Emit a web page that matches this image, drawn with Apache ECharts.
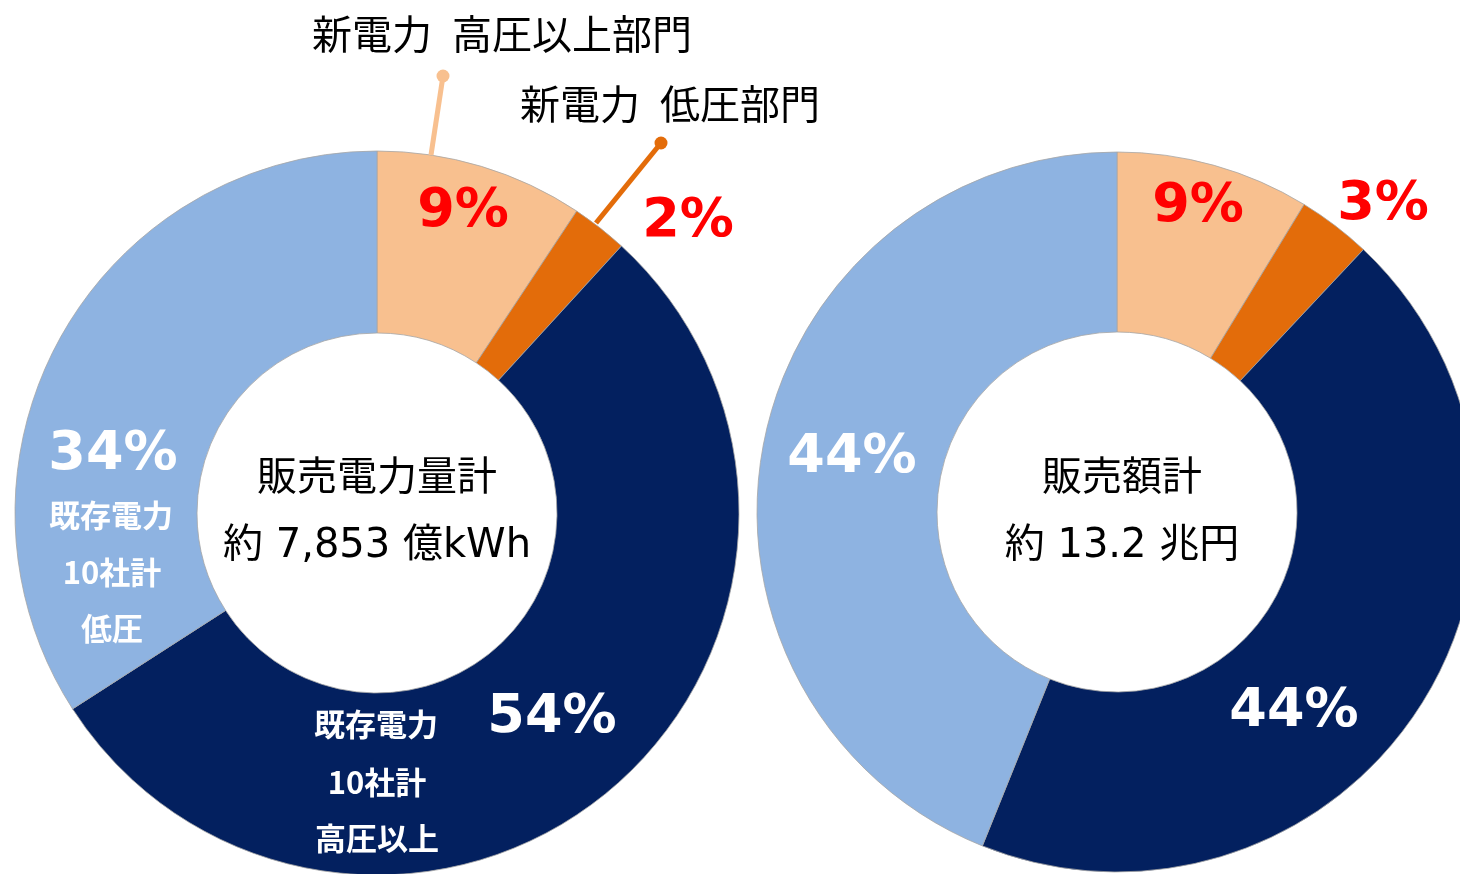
<!DOCTYPE html>
<html>
<head>
<meta charset="utf-8">
<script src="https://cdn.jsdelivr.net/npm/echarts@6/dist/echarts.min.js"></script>
<style>
  html, body { margin: 0; padding: 0; background: #fff; }
  #chart { width: 1460px; height: 874px; }
</style>
</head>
<body>
<div id="chart"></div>
<script>
// 区分
var categories = ['新電力 高圧以上部門', '新電力 低圧部門', '既存電力10社計 高圧以上', '既存電力10社計 低圧'];
// 販売電力量のシェア(%)
var volumeShares = [9.3, 2.5, 54.1, 34.1];
// 販売額のシェア(%)
var salesShares = [8.7, 3.3, 44.1, 43.9];
// 表示ラベル
var volumeLabels = ['9%', '2%', '54%', '34%'];
var salesLabels = ['9%', '3%', '44%', '44%'];
var sliceColors = ['#F8C08F', '#E36C0A', '#03205F', '#8EB3E1'];

var jpFont = "'Noto Sans CJK JP', sans-serif";
var numFont = "'DejaVu Sans', 'Noto Sans CJK JP', sans-serif";

function toData(values) {
    return values.map(function (v, i) {
        return {name: categories[i], value: v, itemStyle: {color: sliceColors[i]}};
    });
}

function txt(text, x, y, fill, font) {
    return {
        type: 'text', x: x, y: y, z: 10,
        style: {text: text, fill: fill, font: font, align: 'center', verticalAlign: 'middle',
                 textAlign: 'center', textVerticalAlign: 'middle'}
    };
}

var pieBase = {
    type: 'pie',
    startAngle: 90,
    clockwise: true,
    label: {show: false},
    labelLine: {show: false},
    emphasis: {disabled: true},
    itemStyle: {borderColor: '#A6A6A6', borderWidth: 0.8}
};

var pctRed = 'bold 54px ' + numFont;
var pctWhite = 'bold 54px ' + numFont;
var subWhite = 'bold 31px ' + jpFont;
var centerFont = '40px ' + numFont;
var centerJp = '40px ' + jpFont;
var calloutFont = '40px ' + jpFont;

var chart = echarts.init(document.getElementById('chart'));
chart.setOption({
    animation: false,
    backgroundColor: '#ffffff',
    series: [
        Object.assign({}, pieBase, {
            name: '販売電力量', center: [377, 513], radius: [180, 362], data: toData(volumeShares)
        }),
        Object.assign({}, pieBase, {
            name: '販売額', center: [1117, 512], radius: [180, 360], data: toData(salesShares)
        })
    ],
    graphic: [
        // 新電力の引き出し線
        {type: 'line', z: 5, shape: {x1: 443, y1: 76, x2: 431, y2: 155}, style: {stroke: sliceColors[0], lineWidth: 5}},
        {type: 'circle', z: 5, shape: {cx: 443, cy: 76, r: 6.5}, style: {fill: sliceColors[0]}},
        {type: 'line', z: 5, shape: {x1: 661, y1: 143, x2: 596, y2: 223}, style: {stroke: sliceColors[1], lineWidth: 5}},
        {type: 'circle', z: 5, shape: {cx: 661, cy: 143, r: 6.5}, style: {fill: sliceColors[1]}},
        txt('新電力\u2002高圧以上部門', 502, 34, '#000', calloutFont),
        txt('新電力\u2002低圧部門', 670, 104, '#000', calloutFont),

        // 左: 販売電力量
        txt(volumeLabels[0], 463, 212, '#FF0000', pctRed),
        txt(volumeLabels[1], 688, 222, '#FF0000', pctRed),
        txt(volumeLabels[2], 552, 718, '#FFFFFF', pctWhite),
        txt(volumeLabels[3], 113, 455, '#FFFFFF', pctWhite),
        txt('既存電力', 111, 515, '#FFFFFF', subWhite),
        txt('10社計', 112, 572, '#FFFFFF', subWhite),
        txt('低圧', 112, 628, '#FFFFFF', subWhite),
        txt('既存電力', 376, 724, '#FFFFFF', subWhite),
        txt('10社計', 377, 782, '#FFFFFF', subWhite),
        txt('高圧以上', 377, 838, '#FFFFFF', subWhite),
        txt('販売電力量計', 377, 475, '#000', centerJp),
        txt('約 7,853 億kWh', 377, 547, '#000', centerFont),

        // 右: 販売額
        txt(salesLabels[0], 1198, 207, '#FF0000', pctRed),
        txt(salesLabels[1], 1383, 205, '#FF0000', pctRed),
        txt(salesLabels[2], 1294, 712, '#FFFFFF', pctWhite),
        txt(salesLabels[3], 852, 458, '#FFFFFF', pctWhite),
        txt('販売額計', 1122, 475, '#000', centerJp),
        txt('約 13.2 兆円', 1122, 547, '#000', centerFont)
    ]
});
</script>
</body>
</html>
